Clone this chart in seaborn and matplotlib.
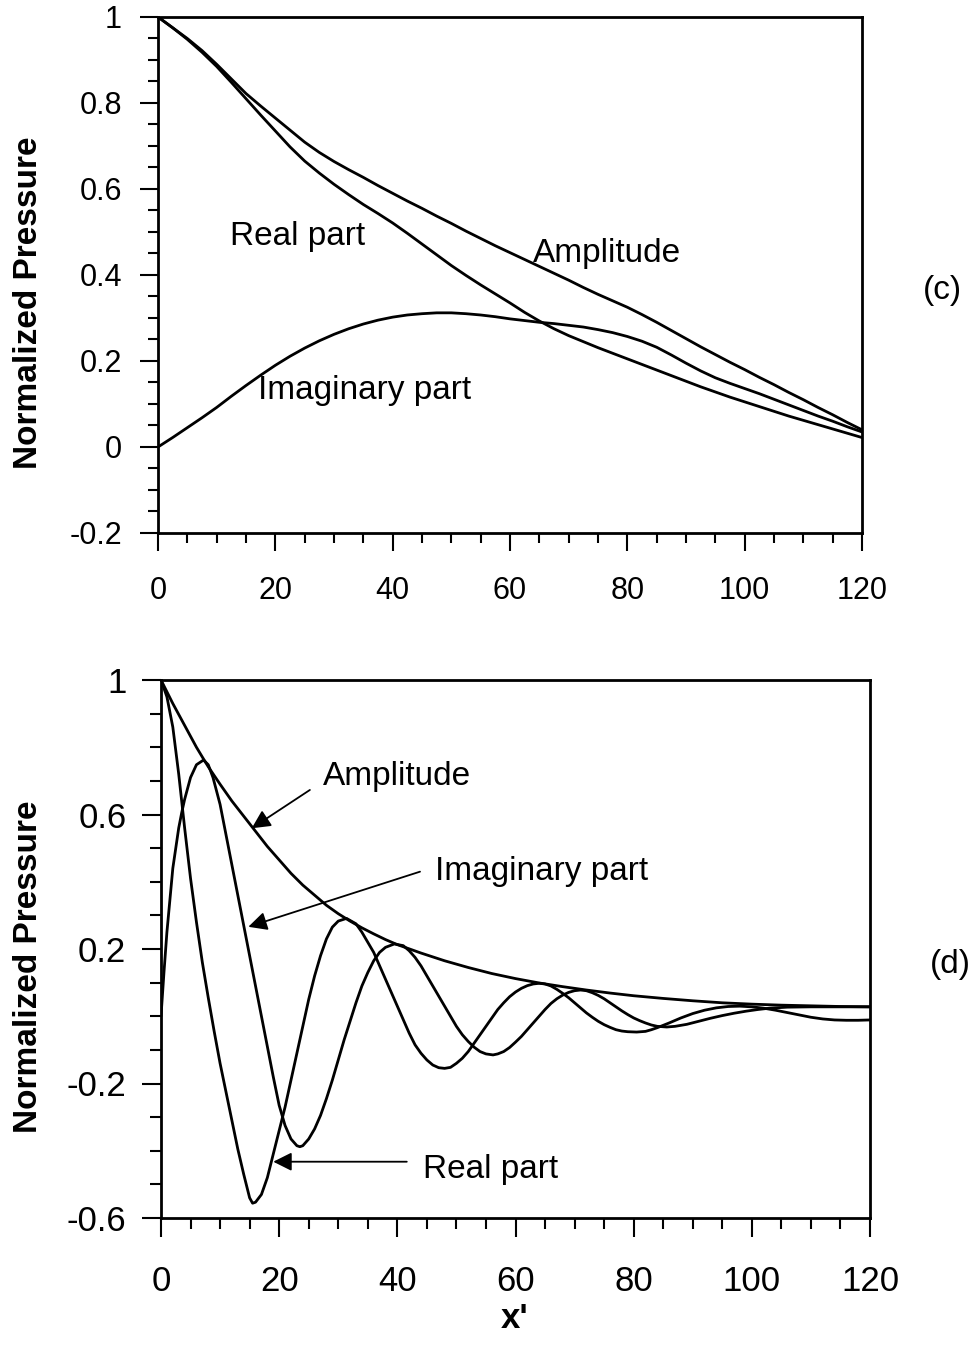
import numpy as np
import pandas as pd
import matplotlib
matplotlib.use("Agg")
import matplotlib.pyplot as plt
from matplotlib.ticker import MultipleLocator
import seaborn as sns

# ---------------- data: panel (c) ----------------
c_x = [0, 2.5, 5, 7.5, 10, 12.5, 15, 17.5, 20, 22.5, 25, 27.5, 30, 32.5, 35, 37.5, 40, 42.5, 45, 47.5,
       50, 52.5, 55, 57.5, 60, 62.5, 65, 67.5, 70, 72.5, 75, 77.5, 80, 82.5, 85, 87.5, 90, 92.5, 95,
       97.5, 100, 102.5, 105, 107.5, 110, 112.5, 115, 117.5, 120]
c_real = [1.0, 0.975, 0.948, 0.918, 0.885, 0.848, 0.81, 0.772, 0.735, 0.698, 0.665, 0.637, 0.611,
          0.587, 0.564, 0.543, 0.521, 0.497, 0.472, 0.447, 0.422, 0.399, 0.377, 0.356, 0.335, 0.313,
          0.293, 0.275, 0.259, 0.245, 0.231, 0.218, 0.205, 0.192, 0.179, 0.166, 0.153, 0.14, 0.128,
          0.116, 0.105, 0.094, 0.083, 0.072, 0.062, 0.052, 0.042, 0.032, 0.022]
c_imag = [0.0, 0.022, 0.045, 0.068, 0.092, 0.118, 0.143, 0.167, 0.19, 0.211, 0.23, 0.247, 0.262,
          0.275, 0.286, 0.295, 0.302, 0.307, 0.31, 0.312, 0.312, 0.31, 0.307, 0.303, 0.298, 0.294,
          0.29, 0.287, 0.283, 0.279, 0.273, 0.266, 0.257, 0.246, 0.232, 0.214, 0.195, 0.177, 0.161,
          0.148, 0.136, 0.124, 0.111, 0.098, 0.085, 0.072, 0.06, 0.047, 0.035]
c_amp = [1.0, 0.975, 0.95, 0.922, 0.89, 0.856, 0.822, 0.793, 0.765, 0.737, 0.709, 0.685, 0.664, 0.645,
         0.627, 0.608, 0.59, 0.572, 0.555, 0.537, 0.52, 0.502, 0.485, 0.468, 0.452, 0.436, 0.42,
         0.404, 0.388, 0.371, 0.355, 0.34, 0.325, 0.308, 0.29, 0.271, 0.252, 0.233, 0.215, 0.197,
         0.18, 0.162, 0.145, 0.127, 0.11, 0.092, 0.075, 0.057, 0.04]

# ---------------- data: panel (d) ----------------
d_real_x = [0, 1, 2, 3, 4, 5, 6, 7, 8, 9, 10, 11, 12, 13, 14, 15, 15.5, 16, 17, 18, 19, 20, 21, 22, 23, 24,
            25, 26, 27, 28, 29, 30, 31.4, 33, 34, 35, 36, 37, 38, 39, 40, 41, 42, 43, 44, 45, 46, 47, 48,
            49, 50, 51, 52, 53, 54, 55, 56, 57, 58, 59, 60, 61, 62, 63, 64, 65, 66, 67, 68, 69, 70, 71,
            72, 73, 74, 75, 76, 77, 78, 79, 80.5, 82, 83, 84, 85, 86, 88, 90, 92, 94, 96, 98, 100, 102,
            104, 106, 108, 110, 112, 114, 116, 118, 120]
d_real = [1.0, 0.95, 0.86, 0.72, 0.56, 0.41, 0.28, 0.16, 0.055, -0.045, -0.14, -0.225, -0.31, -0.395,
          -0.47, -0.54, -0.556, -0.553, -0.53, -0.48, -0.41, -0.34, -0.27, -0.19, -0.11, -0.03,
          0.05, 0.12, 0.18, 0.23, 0.265, 0.283, 0.291, 0.275, 0.25, 0.22, 0.19, 0.15, 0.11, 0.07, 0.03,
          -0.01, -0.05, -0.085, -0.11, -0.13, -0.145, -0.153, -0.155,
          -0.152, -0.14, -0.125, -0.105, -0.08, -0.055, -0.03, -0.005, 0.02, 0.04, 0.058, 0.072, 0.083,
          0.091, 0.096, 0.098, 0.096, 0.09, 0.08, 0.068, 0.055, 0.04, 0.025,
          0.01, -0.003, -0.015, -0.025, -0.033, -0.04, -0.044, -0.046, -0.047, -0.045, -0.04, -0.034,
          -0.027, -0.02, -0.005, 0.008, 0.018, 0.025, 0.029, 0.03, 0.028, 0.024,
          0.018, 0.011, 0.004, -0.003, -0.008, -0.011, -0.012, -0.012, -0.011]

d_imag_x = [0, 0.5, 1, 2, 3, 3.5, 4, 5, 6, 7.2, 8, 8.8, 10, 11, 12, 13, 14, 15, 16, 17, 18, 19, 20, 21, 22,
            23, 23.5, 24, 25, 26, 27, 28, 29, 30, 31, 32, 33, 34, 35, 36, 37, 38, 39.5, 41, 42, 43, 44,
            45, 46, 47, 48, 49, 50, 51, 52, 53, 54, 55, 56.2, 57, 58, 59, 60, 61, 62, 63, 64, 65, 66, 67,
            68, 69, 70, 71, 72, 73, 74, 75, 76, 77, 78, 79, 80, 81, 82, 83, 84, 85.6, 87, 89, 91, 93, 95,
            97, 99, 101, 103, 106, 110, 114, 117, 120]
d_imag = [0.0, 0.13, 0.25, 0.44, 0.56, 0.605, 0.645, 0.71, 0.748, 0.762, 0.748, 0.71, 0.63, 0.54, 0.45,
          0.36, 0.27, 0.18, 0.09, 0.0, -0.09, -0.18, -0.265, -0.325, -0.365,
          -0.385, -0.388, -0.385, -0.365, -0.335, -0.295, -0.245, -0.19, -0.13, -0.07, -0.015, 0.04, 0.09,
          0.13, 0.165, 0.19, 0.205, 0.215, 0.21, 0.195, 0.175, 0.15,
          0.12, 0.09, 0.06, 0.03, 0.0, -0.03, -0.055, -0.075, -0.092, -0.105, -0.112, -0.115, -0.112,
          -0.105, -0.093, -0.077, -0.06, -0.04, -0.02, 0.0, 0.02, 0.038, 0.052,
          0.063, 0.071, 0.076, 0.078, 0.076, 0.07, 0.062, 0.052, 0.04, 0.028, 0.016, 0.005, -0.005,
          -0.013, -0.02, -0.026, -0.03, -0.032, -0.03, -0.024, -0.015, -0.006, 0.002,
          0.009, 0.015, 0.02, 0.024, 0.027, 0.028, 0.028, 0.028, 0.028]

d_amp_x = [0, 2, 4, 6, 7.2, 8, 10, 12, 14, 16, 18, 20, 22, 24, 26, 28, 30, 32, 34, 36, 38, 40,
           44, 48, 52, 56, 60, 64, 68, 72, 76, 80, 85, 90, 95, 100, 105, 110, 115, 120]
d_amp = [1.0, 0.93, 0.865, 0.8, 0.765, 0.742, 0.69, 0.64, 0.595, 0.55, 0.505, 0.465, 0.425, 0.39,
         0.36, 0.33, 0.305, 0.283, 0.263, 0.245, 0.228, 0.213, 0.188, 0.165, 0.145, 0.127, 0.112,
         0.099, 0.088, 0.078, 0.069, 0.061, 0.053, 0.046, 0.04, 0.036, 0.033, 0.031, 0.029, 0.028]

# ---------------- figure ----------------
sns.set_theme(style="ticks")
plt.rcParams["font.family"] = ["Liberation Sans", "DejaVu Sans"]
plt.rcParams["axes.linewidth"] = 2.0
plt.rcParams["text.color"] = "black"
plt.rcParams["axes.labelcolor"] = "black"
plt.rcParams["xtick.color"] = "black"
plt.rcParams["ytick.color"] = "black"

fig = plt.figure(figsize=(9.71, 13.46), dpi=100)
ax1 = fig.add_axes([158 / 971, 1 - 533 / 1346, 704 / 971, 516 / 1346])
ax2 = fig.add_axes([161 / 971, 1 - 1218 / 1346, 709 / 971, 538 / 1346])

lw = 2.0
for x, y in [(c_x, c_real), (c_x, c_imag), (c_x, c_amp)]:
    sns.lineplot(x=x, y=y, ax=ax1, color="black", lw=lw, estimator=None, sort=False)
for x, y in [(d_real_x, d_real), (d_imag_x, d_imag), (d_amp_x, d_amp)]:
    sns.lineplot(x=x, y=y, ax=ax2, color="black", lw=lw, estimator=None, sort=False)

for ax in (ax1, ax2):
    ax.set_xlim(0, 120)
    for s in ax.spines.values():
        s.set_visible(True)
        s.set_linewidth(2.0)
        s.set_color("black")
    ax.xaxis.set_major_locator(MultipleLocator(20))
    ax.xaxis.set_minor_locator(MultipleLocator(5))
    ax.set_facecolor("white")

ax1.set_ylim(-0.2, 1.0)
ax1.yaxis.set_minor_locator(MultipleLocator(0.05))
ax1.set_yticks([-0.2, 0, 0.2, 0.4, 0.6, 0.8, 1.0])
ax1.set_yticklabels(["-0.2", "0", "0.2", "0.4", "0.6", "0.8", "1"])
ax1.set_xticks([0, 20, 40, 60, 80, 100, 120])
ax1.set_xticklabels(["0", "20", "40", "60", "80", "100", "120"])
ax1.tick_params(axis="both", which="major", direction="out", length=13, width=1.5,
                labelsize=22, colors="black")
ax1.tick_params(axis="both", which="minor", direction="out", length=7, width=1.5, colors="black")
ax1.tick_params(axis="x", which="major", pad=18)
ax1.tick_params(axis="y", which="major", pad=13)

ax2.set_ylim(-0.6, 1.0)
ax2.yaxis.set_minor_locator(MultipleLocator(0.1))
ax2.set_yticks([-0.6, -0.2, 0.2, 0.6, 1.0])
ax2.set_yticklabels(["-0.6", "-0.2", "0.2", "0.6", "1"])
ax2.set_xticks([0, 20, 40, 60, 80, 100, 120])
ax2.set_xticklabels(["0", "20", "40", "60", "80", "100", "120"])
ax2.tick_params(axis="both", which="major", direction="out", length=14, width=1.5,
                labelsize=25, colors="black")
ax2.tick_params(axis="both", which="minor", direction="out", length=8, width=1.5, colors="black")
ax2.tick_params(axis="x", which="major", pad=20)
ax2.tick_params(axis="y", which="major", pad=11)

ax1.set_xlabel("")
ax1.set_ylabel("Normalized Pressure", fontsize=24, fontweight="bold", color="black")
ax1.yaxis.set_label_coords(-0.162, 0.446)
ax2.set_ylabel("Normalized Pressure", fontsize=24, fontweight="bold", color="black")
ax2.yaxis.set_label_coords(-0.165, 0.467)
ax2.set_xlabel("x'", fontsize=25, fontweight="bold", color="black")
ax2.xaxis.set_label_coords(0.498, -0.156)

# annotations panel (c)
tfs = 24
ax1.text(12.3, 0.470, "Real part", fontsize=tfs, va="baseline", ha="left", color="black")
ax1.text(63.9, 0.431, "Amplitude", fontsize=tfs, va="baseline", ha="left", color="black")
ax1.text(17.0, 0.112, "Imaginary part", fontsize=tfs, va="baseline", ha="left", color="black")

# annotations panel (d)
arrow = dict(arrowstyle="-|>", color="black", lw=1.3, mutation_scale=28, shrinkA=0, shrinkB=0)
ax2.annotate("", xy=(15.35, 0.559), xytext=(25.2, 0.673), arrowprops=arrow)
ax2.text(27.4, 0.688, "Amplitude", fontsize=tfs, va="baseline", ha="left", color="black")
ax2.annotate("", xy=(14.78, 0.266), xytext=(43.84, 0.430), arrowprops=arrow)
ax2.text(46.4, 0.405, "Imaginary part", fontsize=tfs, va="baseline", ha="left", color="black")
ax2.annotate("", xy=(19.0, -0.4326), xytext=(41.6, -0.4326), arrowprops=arrow)
ax2.text(44.3, -0.481, "Real part", fontsize=tfs, va="baseline", ha="left", color="black")

fig.text(942 / 971, 1 - 290 / 1346, "(c)", fontsize=24, ha="center", va="center", color="black")
fig.text(950 / 971, 1 - 964 / 1346, "(d)", fontsize=24, ha="center", va="center", color="black")

fig.savefig("out.png", dpi=100, facecolor="white")
